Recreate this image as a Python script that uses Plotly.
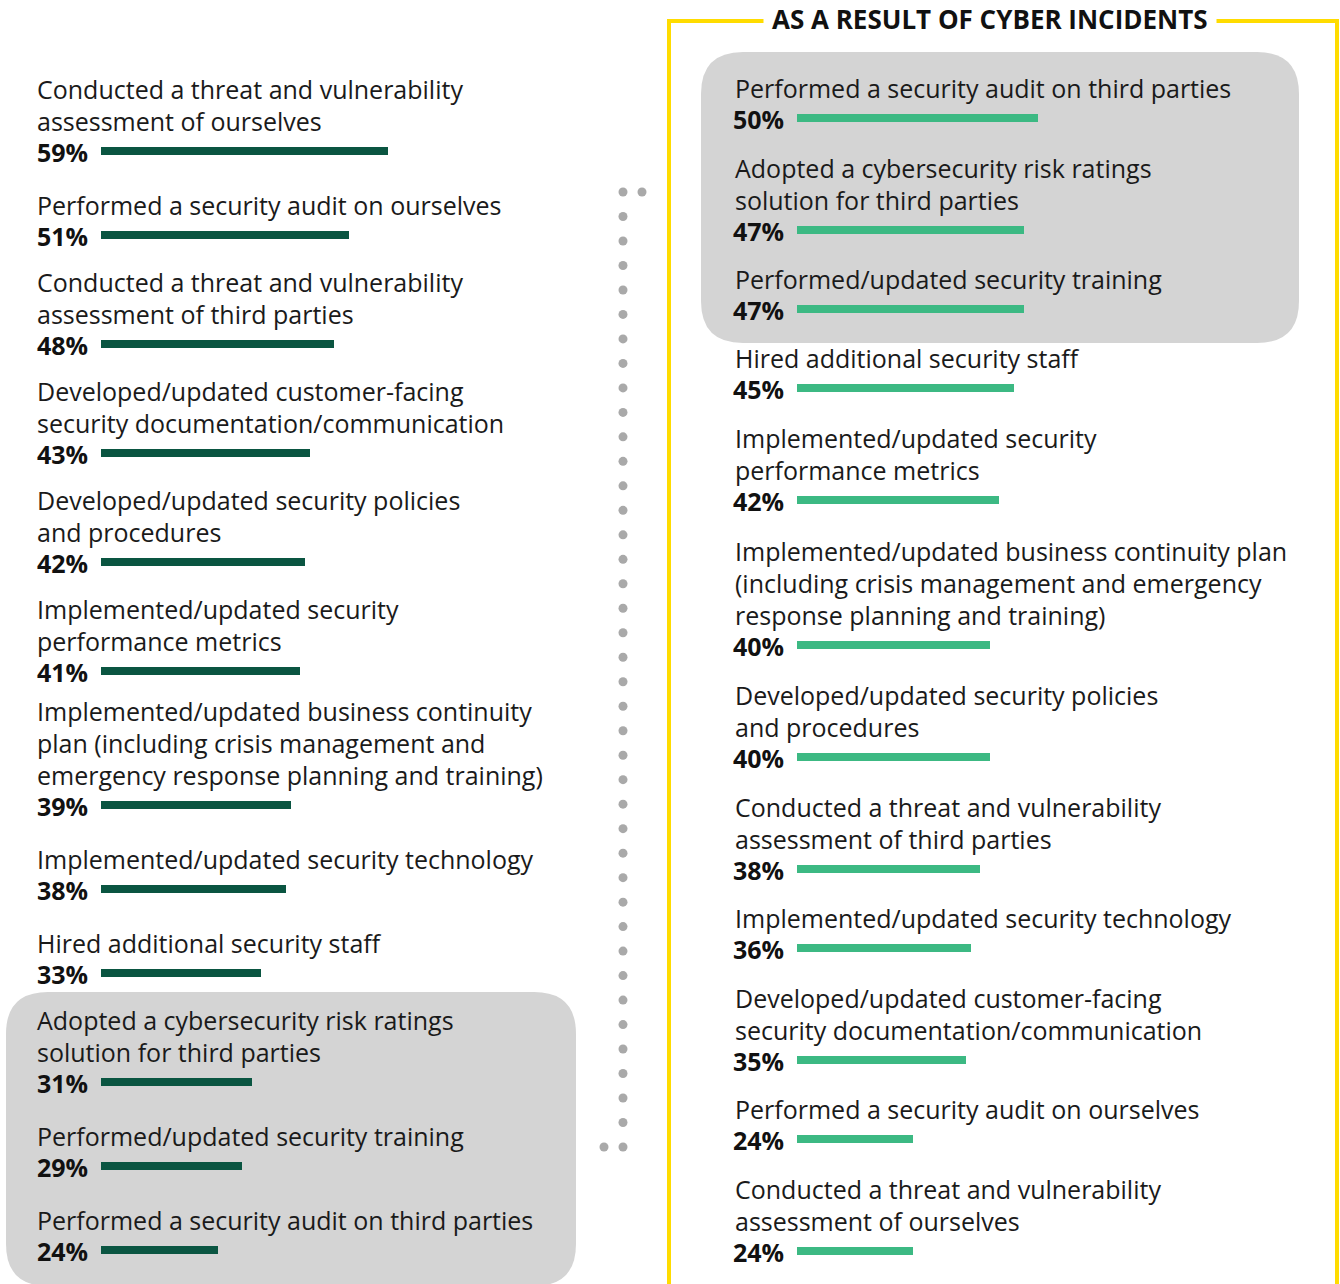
import numpy as np
import plotly.graph_objects as go

W, H = 1340, 1284

# ---- data -------------------------------------------------------------
left_labels = [
    ["Conducted a threat and vulnerability", "assessment of ourselves"],
    ["Performed a security audit on ourselves"],
    ["Conducted a threat and vulnerability", "assessment of third parties"],
    ["Developed/updated customer-facing", "security documentation/communication"],
    ["Developed/updated security policies", "and procedures"],
    ["Implemented/updated security", "performance metrics"],
    ["Implemented/updated business continuity", "plan (including crisis management and",
     "emergency response planning and training)"],
    ["Implemented/updated security technology"],
    ["Hired additional security staff"],
    ["Adopted a cybersecurity risk ratings", "solution for third parties"],
    ["Performed/updated security training"],
    ["Performed a security audit on third parties"],
]
left_values = [59, 51, 48, 43, 42, 41, 39, 38, 33, 31, 29, 24]

right_title = "AS A RESULT OF CYBER INCIDENTS"
right_labels = [
    ["Performed a security audit on third parties"],
    ["Adopted a cybersecurity risk ratings", "solution for third parties"],
    ["Performed/updated security training"],
    ["Hired additional security staff"],
    ["Implemented/updated security", "performance metrics"],
    ["Implemented/updated business continuity plan",
     "(including crisis management and emergency",
     "response planning and training)"],
    ["Developed/updated security policies", "and procedures"],
    ["Conducted a threat and vulnerability", "assessment of third parties"],
    ["Implemented/updated security technology"],
    ["Developed/updated customer-facing", "security documentation/communication"],
    ["Performed a security audit on ourselves"],
    ["Conducted a threat and vulnerability", "assessment of ourselves"],
]
right_values = [50, 47, 47, 45, 42, 40, 40, 38, 36, 35, 24, 24]

left_highlight = [9, 10, 11]
right_highlight = [0, 1, 2]

# ---- styling ----------------------------------------------------------
FONT = "Open Sans"
TXT = "#1a1a1a"
DARK_GREEN = "#0a5541"
LIGHT_GREEN = "#3cb983"
BOX_GRAY = "#d4d4d4"
YELLOW = "#ffdc00"
DOT_GRAY = "#a9a9a9"
LINE_PITCH = 32
LABEL_FS = 25
PCT_FS = 25


def bar_rows(labels, first, base, per_line):
    """Vertical position of each bar, stacked by label line count."""
    ys = [first]
    for lab in labels[1:]:
        ys.append(ys[-1] + base + per_line * len(lab))
    return ys


left_y = bar_rows(left_labels, 151, 59, 25)
right_y = bar_rows(right_labels, 118, 46, 33)
LEFT_GAP, RIGHT_GAP = 30, 30   # distance from last label line to its bar

# column geometry (pixels)
L_TEXT_X, L_BAR_X, L_SCALE = 38, 101, 4.86
R_TEXT_X, R_BAR_X, R_SCALE = 735, 797, 4.82

fig = go.Figure()

# left and right bar series, each on its own percentage axis
fig.add_trace(go.Bar(
    x=left_values, y=left_y, orientation="h", width=8,
    marker=dict(color=DARK_GREEN, line=dict(width=0)),
    xaxis="x2", yaxis="y", hoverinfo="skip", showlegend=False,
))
fig.add_trace(go.Bar(
    x=right_values, y=right_y, orientation="h", width=8,
    marker=dict(color=LIGHT_GREEN, line=dict(width=0)),
    xaxis="x3", yaxis="y", hoverinfo="skip", showlegend=False,
))

# dotted connector between the two columns
col_y = np.linspace(192, 1147, 40)
dot_x = [642] + [623] * len(col_y) + [604]
dot_y = [192] + list(col_y) + [1147]
fig.add_trace(go.Scatter(
    x=dot_x, y=dot_y, mode="markers",
    marker=dict(size=9, color=DOT_GRAY),
    xaxis="x", yaxis="y", hoverinfo="skip", showlegend=False,
))


def rounded_rect(x0, y0, x1, y1, r):
    return (f"M {x0 + r} {y0} L {x1 - r} {y0} Q {x1} {y0} {x1} {y0 + r} "
            f"L {x1} {y1 - r} Q {x1} {y1} {x1 - r} {y1} "
            f"L {x0 + r} {y1} Q {x0} {y1} {x0} {y1 - r} "
            f"L {x0} {y0 + r} Q {x0} {y0} {x0 + r} {y0} Z")


shapes = []


def label_top(ys, labels, i, gap):
    return ys[i] - gap - LINE_PITCH * (len(labels[i]) - 1)


# highlight panels
lt = label_top(left_y, left_labels, left_highlight[0], LEFT_GAP) - 28
lb = left_y[left_highlight[-1]] + 36
shapes.append(dict(type="path", path=rounded_rect(6, lt, 576, lb, 42),
                   xref="x", yref="y", fillcolor=BOX_GRAY, line=dict(width=0),
                   layer="below"))
rt = label_top(right_y, right_labels, right_highlight[0], RIGHT_GAP) - 36
rb = right_y[right_highlight[-1]] + 34
shapes.append(dict(type="path", path=rounded_rect(701, rt, 1299, rb, 42),
                   xref="x", yref="y", fillcolor=BOX_GRAY, line=dict(width=0),
                   layer="below"))

# yellow frame around the right column
shapes.append(dict(type="path",
                   path="M 669 1300 L 669 21 L 1337 21 L 1337 1300",
                   xref="x", yref="y", line=dict(color=YELLOW, width=4)))

annotations = []


def add_column(labels, values, ys, text_x, pct_x, gap):
    for lab, v, y in zip(labels, values, ys):
        n = len(lab)
        for k, line in enumerate(lab):
            ly = y - gap - LINE_PITCH * (n - 1 - k)
            annotations.append(dict(
                x=text_x, y=ly, xref="x", yref="y", text=line,
                xanchor="left", yanchor="middle", showarrow=False,
                borderpad=0,
                font=dict(family=FONT, size=LABEL_FS, color=TXT)))
        annotations.append(dict(
            x=pct_x, y=y + 1, xref="x", yref="y", text=f"<b>{v}%</b>",
            xanchor="left", yanchor="middle", showarrow=False,
            borderpad=0,
            font=dict(family=FONT, size=PCT_FS, color="#111111")))


add_column(left_labels, left_values, left_y, L_TEXT_X - 2, L_TEXT_X - 2, LEFT_GAP)
add_column(right_labels, right_values, right_y, R_TEXT_X - 1, R_TEXT_X - 3, RIGHT_GAP)

annotations.append(dict(
    x=990, y=19, xref="x", yref="y", text=f"<b>{right_title}</b>",
    xanchor="center", yanchor="middle", showarrow=False,
    bgcolor="white", borderpad=8,
    font=dict(family=FONT, size=26, color="#111111")))

hidden = dict(visible=False, showgrid=False, zeroline=False, fixedrange=True)

fig.update_layout(
    width=W, height=H, autosize=False,
    margin=dict(l=0, r=0, t=0, b=0, pad=0),
    paper_bgcolor="white", plot_bgcolor="rgba(0,0,0,0)",
    xaxis=dict(range=[0, W], domain=[0, 1], **hidden),
    xaxis2=dict(range=[0, (W - L_BAR_X) / L_SCALE],
                domain=[L_BAR_X / W, 1], anchor="y", **hidden),
    xaxis3=dict(range=[0, (W - R_BAR_X) / R_SCALE],
                domain=[R_BAR_X / W, 1], anchor="y", **hidden),
    yaxis=dict(range=[H, 0], domain=[0, 1], **hidden),
    shapes=shapes, annotations=annotations,
    bargap=0,
)

fig.write_html("out.html", config=dict(displayModeBar=False))
